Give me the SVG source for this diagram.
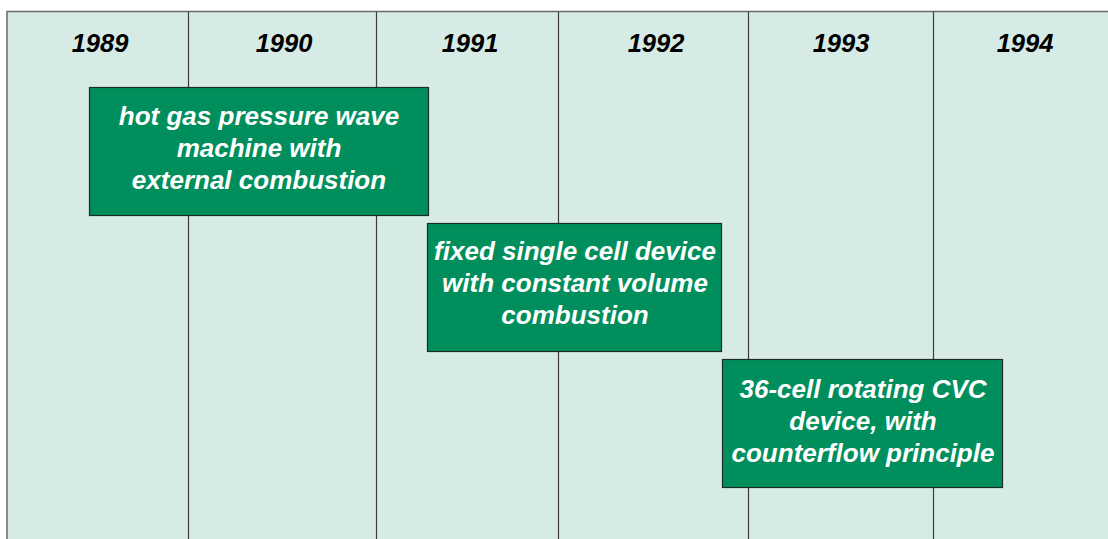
<svg xmlns="http://www.w3.org/2000/svg" width="1108" height="539" viewBox="0 0 1108 539">
  <style>
    .year { font-family: "Liberation Sans", Arial, sans-serif; font-size: 25.5px; font-weight: bold; font-style: italic; fill: #000; text-anchor: middle; }
    .label { font-family: "Liberation Sans", Arial, sans-serif; font-size: 26px; font-weight: bold; font-style: italic; fill: #fff; text-anchor: middle; }
    .box { fill: #008F5C; stroke: #1E2A24; stroke-width: 1.2; }
    .col { stroke: #3C3C3C; stroke-width: 1.2; }
  </style>
  <rect x="0" y="0" width="1108" height="539" fill="#fff"/>
  <!-- timeline panel -->
  <rect x="7" y="11.5" width="1110" height="540" fill="#D6EBE5" stroke="#6A6A6A" stroke-width="1.5"/>
  <g id="columns">
    <line class="col" x1="188.5" y1="12" x2="188.5" y2="539"/>
    <line class="col" x1="376.5" y1="12" x2="376.5" y2="539"/>
    <line class="col" x1="558.5" y1="12" x2="558.5" y2="539"/>
    <line class="col" x1="748.5" y1="12" x2="748.5" y2="539"/>
    <line class="col" x1="933.5" y1="12" x2="933.5" y2="539"/>
  </g>
  <g id="years">
    <text class="year" x="100" y="52">1989</text>
    <text class="year" x="284" y="52">1990</text>
    <text class="year" x="470" y="52">1991</text>
    <text class="year" x="656" y="52">1992</text>
    <text class="year" x="841" y="52">1993</text>
    <text class="year" x="1025" y="52">1994</text>
  </g>
  <g id="connectors"></g>
  <g id="node-hot-gas">
    <rect class="box" x="89.5" y="87.5" width="339" height="128"/>
    <text class="label" x="259" y="125">hot gas pressure wave</text>
    <text class="label" x="259" y="157">machine with</text>
    <text class="label" x="259" y="189">external combustion</text>
  </g>
  <g id="node-single-cell">
    <rect class="box" x="427.5" y="223.5" width="294" height="128"/>
    <text class="label" x="575" y="260">fixed single cell device</text>
    <text class="label" x="575" y="292">with constant volume</text>
    <text class="label" x="575" y="324">combustion</text>
  </g>
  <g id="node-36-cell">
    <rect class="box" x="722.5" y="359.5" width="280" height="128"/>
    <text class="label" x="863" y="398">36-cell rotating CVC</text>
    <text class="label" x="863" y="430">device, with</text>
    <text class="label" x="863" y="462">counterflow principle</text>
  </g>
</svg>
